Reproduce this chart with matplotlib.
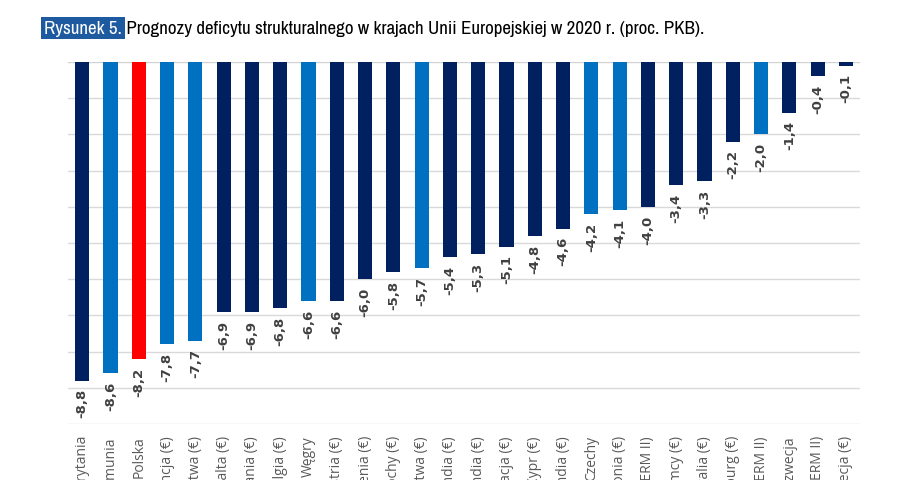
import matplotlib
matplotlib.use("Agg")
import matplotlib.pyplot as plt
from matplotlib import font_manager

countries = ["Wielka Brytania", "Rumunia", "Polska", "Francja (€)", "Litwa (€)",
             "Malta (€)", "Hiszpania (€)", "Belgia (€)", "Węgry", "Austria (€)",
             "Słowenia (€)", "Włochy (€)", "Łotwa (€)", "Finlandia (€)", "Irlandia (€)",
             "Słowacja (€)", "Cypr (€)", "Holandia (€)", "Czechy", "Estonia (€)",
             "Dania (ERM II)", "Niemcy (€)", "Portugalia (€)", "Luksemburg (€)",
             "Chorwacja (ERM II)", "Szwecja", "Bułgaria (ERM II)", "Grecja (€)"]
values = [-8.8, -8.6, -8.2, -7.8, -7.7, -6.9, -6.9, -6.8, -6.6, -6.6, -6.0, -5.8,
          -5.7, -5.4, -5.3, -5.1, -4.8, -4.6, -4.2, -4.1, -4.0, -3.4, -3.3, -2.2,
          -2.0, -1.4, -0.4, -0.1]
groups = ["d", "m", "r", "m", "m", "d", "d", "d", "m", "d", "d", "d", "m", "d",
          "d", "d", "d", "d", "m", "m", "d", "d", "d", "d", "m", "d", "d", "d"]
palette = {"d": "#002060", "m": "#0070C0", "r": "#FF0000"}
colors = [palette[g] for g in groups]
title_tag = "Rysunek 5."
title_rest = " Prognozy deficytu strukturalnego w krajach Unii Europejskiej w 2020 r. (proc. PKB)."

# pick a narrow font if one is installed
fonts = font_manager.fontManager.ttflist
narrow = [f.name for f in fonts if ("Narrow" in f.name or "Condensed" in f.name)]
title_font = narrow[0] if narrow else "DejaVu Sans"

fig = plt.figure(figsize=(9.13, 4.81), dpi=100)
ax = fig.add_axes([0.0745, 0.1164, 0.8675, 0.7526])

x = list(range(len(countries)))
ax.bar(x, values, width=0.5, color=colors, zorder=3)
ax.set_xlim(-0.5, len(countries) - 0.5)
ax.set_ylim(-10, 0)
ax.set_yticks(range(-10, 1))
ax.yaxis.grid(True, color="#D9D9D9", linewidth=1.0, zorder=0)
ax.tick_params(axis="y", left=False, labelleft=False)
for s in ax.spines.values():
    s.set_visible(False)
ax.axhline(0, color="#D0D0D0", linewidth=1.2, zorder=2)

ax.set_xticks(x)
ax.set_xticklabels(countries, rotation=90, fontsize=10, color="#595959",
                   family="Open Sans")
ax.tick_params(axis="x", length=0, pad=8)

for xi, v in zip(x, values):
    ax.annotate(f"{v:.1f}".replace(".", ","), xy=(xi, v), xytext=(0, -5.5),
                textcoords="offset points", rotation=90, ha="center", va="top",
                fontsize=9.5, fontweight="bold", color="#404040", family="DejaVu Sans")

# title: fit total width to the reference (~664 px)
target_w = 664.0
fs = 13.0
renderer = fig.canvas.get_renderer()
probe = fig.text(0, 0, title_tag + title_rest, family=title_font, fontsize=fs)
w = probe.get_window_extent(renderer).width
probe.remove()
fs = fs * target_w / w

t1 = fig.text(44 / 913, 1 - 34 / 481, title_tag, family=title_font, fontsize=fs,
              color="white", va="baseline", ha="left",
              bbox=dict(boxstyle="square,pad=0.18", facecolor="#1E5AA0", edgecolor="none"))
ax.annotate(title_rest, xy=(1, 0), xycoords=t1, va="bottom", ha="left",
            family=title_font, fontsize=fs, color="black", annotation_clip=False)

fig.savefig("out.png", dpi=100)
